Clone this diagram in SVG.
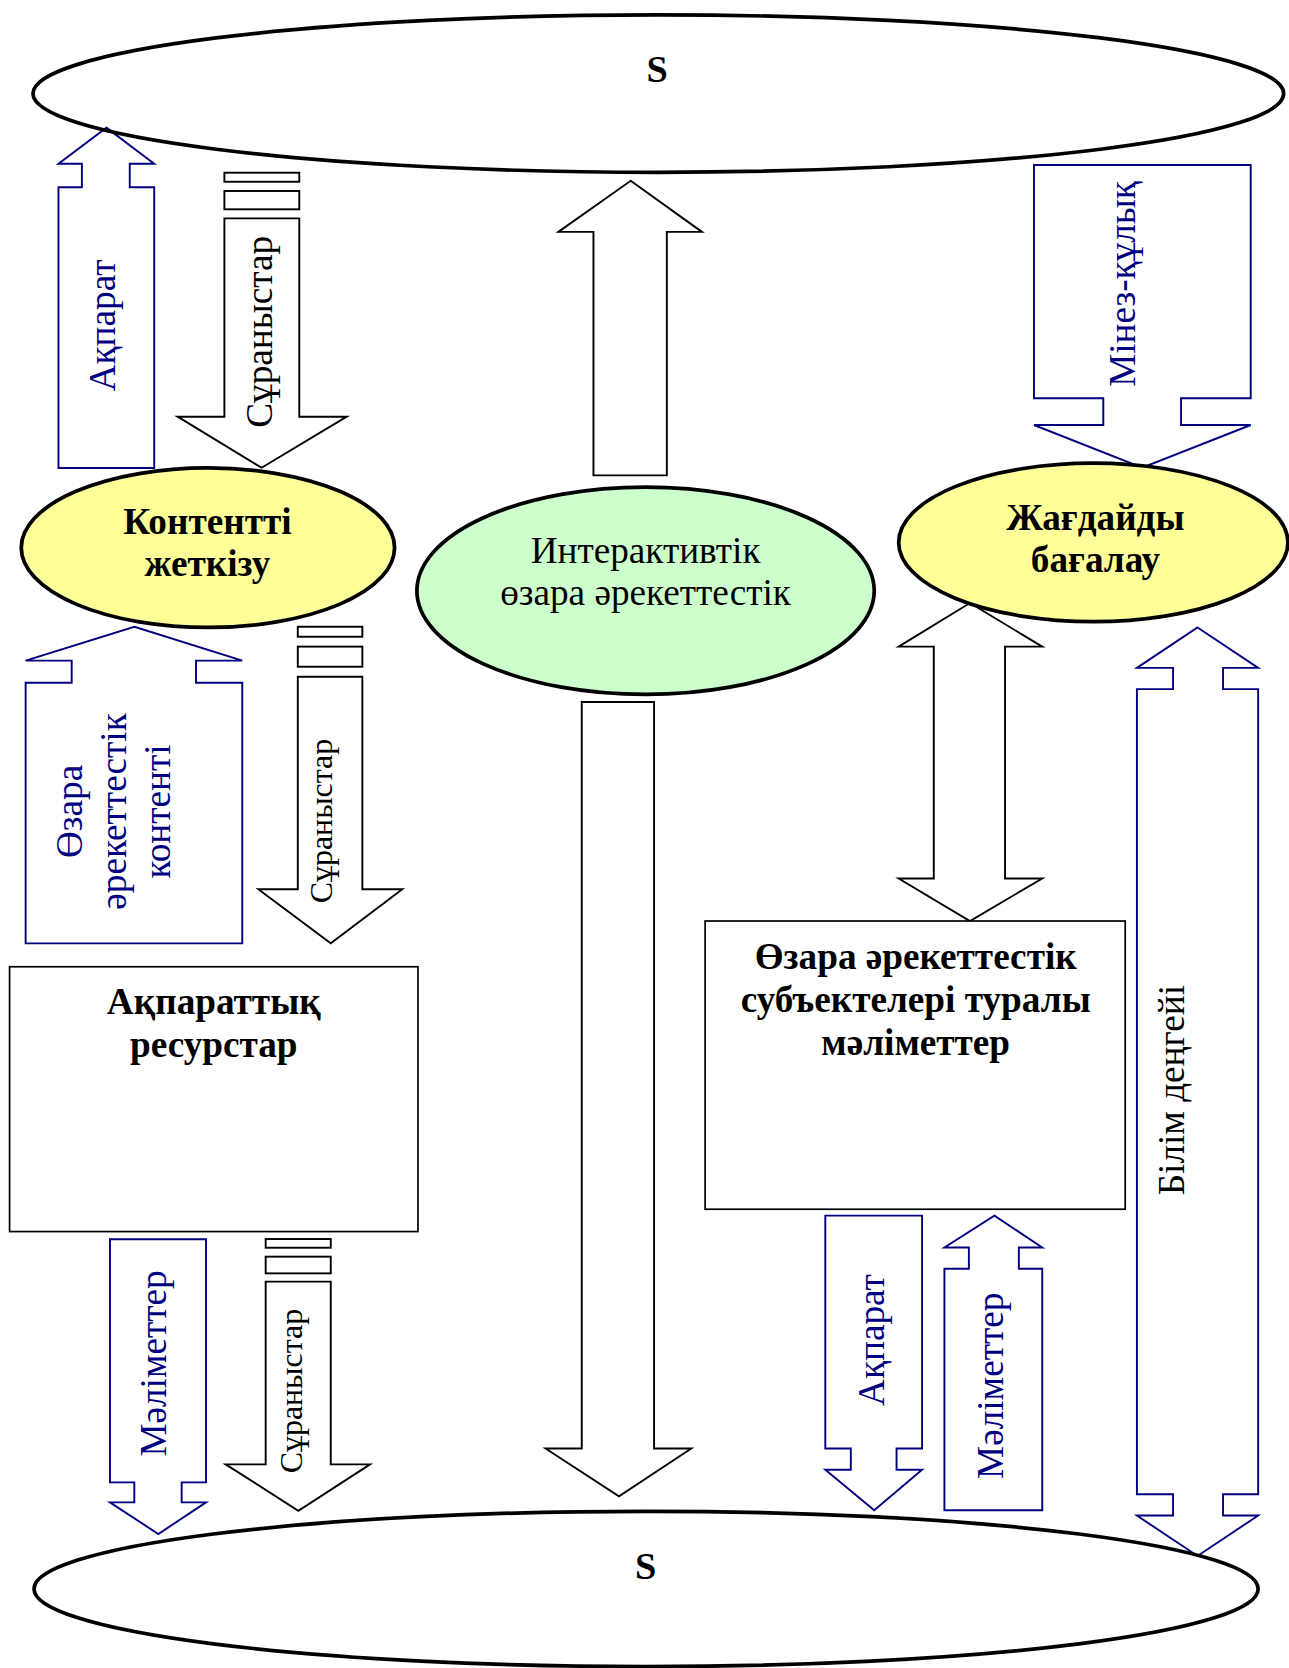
<svg xmlns="http://www.w3.org/2000/svg" width="1289" height="1668" viewBox="0 0 1289 1668">
<style>
.big{fill:none;stroke:#000;stroke-width:3.5}
.yel{fill:#FFFF99;stroke:#000;stroke-width:3.5}
.grn{fill:#CCFFCC;stroke:#000;stroke-width:3.5}
.box{fill:#fff;stroke:#000;stroke-width:1.6}
.ab{fill:#fff;stroke:#000;stroke-width:1.8;stroke-linejoin:miter}
.an{fill:#fff;stroke:#000080;stroke-width:1.8;stroke-linejoin:miter}
text{font-family:"Liberation Serif","Times New Roman",serif;text-anchor:middle}
.tb{font-weight:bold;font-size:35px;fill:#000}
.tn{font-size:35px;fill:#000}
.vn{font-size:35px;fill:#000080}
.vb{font-size:35px;fill:#000}
.vs{font-size:30px;fill:#000}
.s{font-weight:bold;font-size:36px;fill:#000}
</style>
<rect width="1289" height="1668" fill="#fff"/>
<g transform="scale(1.06353)">
<g id="connectors">
<path class="an" d="M100,120 L145,154 L122,154 L122,176 L145,176 L145,440 L55,440 L55,176 L77,176 L77,154 L55,154 Z"/>
<rect class="ab" x="211" y="162.4" width="70.4" height="8.5"/>
<rect class="ab" x="211" y="179.6" width="70.4" height="17.2"/>
<path class="ab" d="M211,205.3 L281.4,205.3 L281.4,391.8 L326,391.8 L246,439.8 L167,391.8 L211,391.8 Z"/>
<path class="an" d="M126.3,589.3 L227.8,621.2 L184.3,621.2 L184.3,641.9 L227.8,641.9 L227.8,887 L24.1,887 L24.1,641.9 L67.4,641.9 L67.4,621.2 L24.1,621.2 Z"/>
<rect class="ab" x="280" y="589.3" width="60.7" height="9.4"/>
<rect class="ab" x="280" y="608" width="60.7" height="18.9"/>
<path class="ab" d="M280,636.3 L340.7,636.3 L340.7,836.2 L378.3,836.2 L311,887 L242.9,836.2 L280,836.2 Z"/>
<path class="an" d="M103.4,1165.3 L193.7,1165.3 L193.7,1393.8 L170.8,1393.8 L170.8,1412.6 L193.7,1412.6 L148.9,1442.4 L103.4,1412.6 L126.3,1412.6 L126.3,1393.8 L103.4,1393.8 Z"/>
<rect class="ab" x="249.8" y="1165" width="61.2" height="8.2"/>
<rect class="ab" x="249.8" y="1181.6" width="61.2" height="15.7"/>
<path class="ab" d="M249.8,1205.1 L311,1205.1 L311,1376.9 L347.9,1376.9 L280.5,1420.5 L212.2,1376.9 L249.8,1376.9 Z"/>
<path class="ab" d="M593,170 L660,218 L627,218 L627,447 L558,447 L558,218 L525,218 Z"/>
<path class="ab" d="M547,660 L615,660 L615,1362 L650,1362 L582,1407 L513,1362 L547,1362 Z"/>
<path class="an" d="M972.2,155.1 L1176,155.1 L1176,374.5 L1110.5,374.5 L1110.5,399.6 L1176,399.6 L1074,439.7 L972.2,399.6 L1037.4,399.6 L1037.4,374.5 L972.2,374.5 Z"/>
<path class="ab" d="M912,567 L980,608 L945,608 L945,826 L980,826 L912,866 L845,826 L878,826 L878,608 L845,608 Z"/>
<path class="an" d="M1126,590 L1183,628 L1150,628 L1150,648 L1183,648 L1183,1405 L1150,1405 L1150,1425 L1183,1425 L1126,1463 L1069,1425 L1103,1425 L1103,1405 L1069,1405 L1069,648 L1103,648 L1103,628 L1069,628 Z"/>
<path class="an" d="M776,1143 L867,1143 L867,1362 L843,1362 L843,1382 L867,1382 L822,1420 L776,1382 L800,1382 L800,1362 L776,1362 Z"/>
<path class="an" d="M935,1143 L980,1173 L958,1173 L958,1193 L980,1193 L980,1420 L888,1420 L888,1193 L911,1193 L911,1173 L888,1173 Z"/>
<text class="vn" transform="translate(108,306) rotate(-90)">Ақпарат</text>
<text class="vb" transform="translate(255.5,312) rotate(-90)">Сұраныстар</text>
<text class="vn" transform="translate(77,763) rotate(-90)">Өзара</text>
<text class="vn" transform="translate(118.5,763) rotate(-90)">әрекеттестік</text>
<text class="vn" transform="translate(160,763) rotate(-90)">контенті</text>
<text class="vs" transform="translate(312,772) rotate(-90)">Сұраныстар</text>
<text class="vn" transform="translate(156,1282) rotate(-90)">Мәліметтер</text>
<text class="vs" transform="translate(284,1308) rotate(-90)">Сұраныстар</text>
<text class="vn" transform="translate(1067,267) rotate(-90)">Мінез-құлық</text>
<text class="vb" transform="translate(1113,1025) rotate(-90)">Білім деңгейі</text>
<text class="vn" transform="translate(831,1260) rotate(-90)">Ақпарат</text>
<text class="vn" transform="translate(943,1303) rotate(-90)">Мәліметтер</text>
</g>
<g id="s-top"><ellipse class="big" cx="619" cy="88" rx="588" ry="74"/><text class="s" x="618" y="77">S</text></g>
<g id="s-bottom"><ellipse class="big" cx="607.5" cy="1494" rx="575.5" ry="73"/><text class="s" x="607" y="1485">S</text></g>
<g id="content"><ellipse class="yel" cx="195.5" cy="515" rx="175.5" ry="75"/><text class="tb" x="195" y="502">Контентті</text><text class="tb" x="195" y="542">жеткізу</text></g>
<g id="interactive"><ellipse class="grn" cx="607" cy="555.5" rx="215" ry="97.5"/><text class="tn" x="607" y="529">Интерактивтік</text><text class="tn" x="607" y="569">өзара әрекеттестік</text></g>
<g id="assess"><ellipse class="yel" cx="1028" cy="510" rx="183" ry="74.5"/><text class="tb" x="1030" y="498">Жағдайды</text><text class="tb" x="1030" y="538">бағалау</text></g>
<g id="resources"><rect class="box" x="9" y="909" width="384" height="249"/><text class="tb" x="201" y="953">Ақпараттық</text><text class="tb" x="201" y="994">ресурстар</text></g>
<g id="subjects"><rect class="box" x="663" y="866" width="395" height="271"/><text class="tb" x="861" y="911">Өзара әрекеттестік</text><text class="tb" x="861" y="952">субъектелері туралы</text><text class="tb" x="861" y="992">мәліметтер</text></g>
</g>
</svg>
